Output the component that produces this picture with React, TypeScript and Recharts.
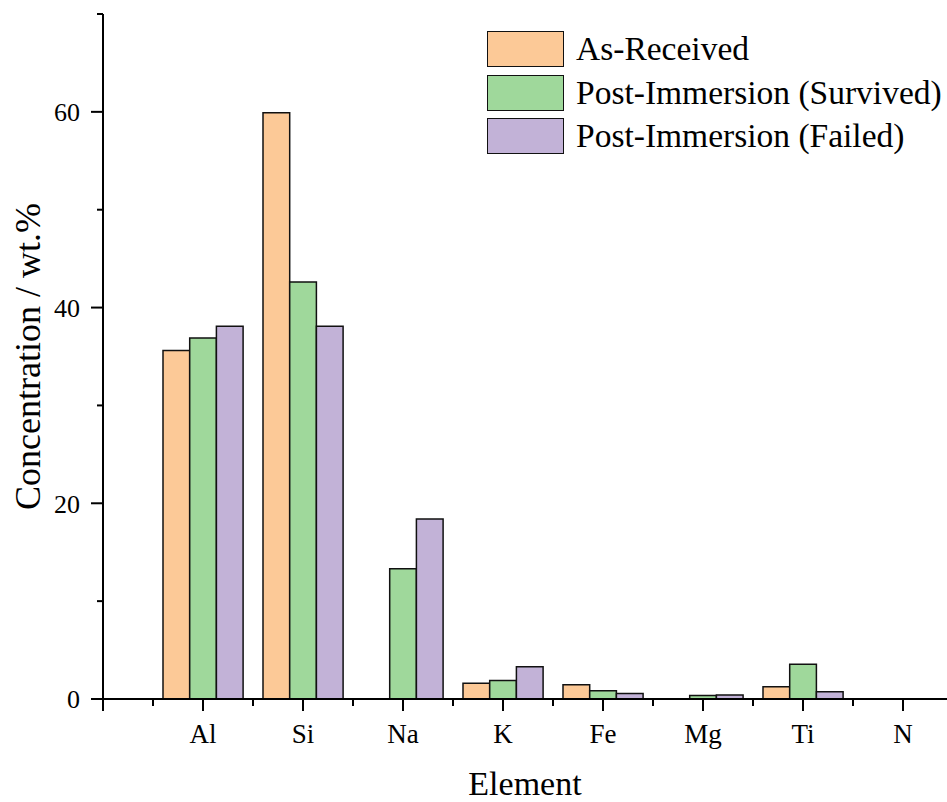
import React from "react";
import { BarChart, Bar, XAxis, YAxis, Legend } from "recharts";

const FONT = "'Liberation Serif', 'DejaVu Serif', serif";

const elements = ["Al", "Si", "Na", "K", "Fe", "Mg", "Ti", "N"];
const asReceived = [35.6, 59.9, 0, 1.6, 1.45, 0, 1.25, 0];
const survived = [36.9, 42.6, 13.3, 1.9, 0.85, 0.35, 3.55, 0];
const failed = [38.1, 38.1, 18.4, 3.3, 0.55, 0.42, 0.75, 0];

const xMajor = [0, 1, 2, 3, 4, 5, 6, 7, 8];
const xMinor = [0.5, 1.5, 2.5, 3.5, 4.5, 5.5, 6.5, 7.5];
const yTicks = [0, 10, 20, 30, 40, 50, 60, 70];

const data = elements.map((el, i) => ({
  pos: i + 1,
  el,
  asReceived: asReceived[i],
  survived: survived[i],
  failed: failed[i],
}));

const series = [
  { key: "asReceived", name: "As-Received", color: "#FCC997" },
  { key: "survived", name: "Post-Immersion (Survived)", color: "#9FD89B" },
  { key: "failed", name: "Post-Immersion (Failed)", color: "#C2B2D7" },
];
const seriesOrder = series.map((s) => s.name);

const tickLine = { stroke: "#000", strokeWidth: 2 };

function LegendBox(props: any) {
  const items = [...(props.payload ?? [])].sort(
    (a: any, b: any) => seriesOrder.indexOf(a.value) - seriesOrder.indexOf(b.value)
  );
  return (
    <div style={{ fontFamily: FONT, color: "#000" }}>
      {items.map((it: any) => (
        <div key={it.value} style={{ display: "flex", alignItems: "center", height: 36, marginBottom: 7.5 }}>
          <div
            style={{
              width: 77,
              height: 36,
              boxSizing: "border-box",
              border: "1.5px solid #111",
              background: it.color,
            }}
          />
          <span style={{ marginLeft: 12, fontSize: 33.5, lineHeight: "36px", whiteSpace: "nowrap" }}>{it.value}</span>
        </div>
      ))}
    </div>
  );
}

// y ticks: long with label every 20, short (minor) in between
function YTick(props: any) {
  const { x, y, payload } = props;
  const major = payload.value % 20 === 0;
  return (
    <g>
      <line x1={x - (major ? 12 : 6)} x2={x} y1={y} y2={y} stroke="#000" strokeWidth={2} />
      {major && (
        <text x={x - 23} y={y} dy="0.355em" textAnchor="end" fontFamily={FONT} fontSize={26} fill="#000">
          {payload.value}
        </text>
      )}
    </g>
  );
}

function YTitle(props: any) {
  const vb = props.viewBox || {};
  const x = 28;
  const y = vb.y + vb.height / 2;
  return (
    <text
      x={x}
      y={y}
      transform={`rotate(-90 ${x} ${y})`}
      textAnchor="middle"
      dominantBaseline="central"
      fontFamily={FONT}
      fontSize={36}
      fill="#000"
    >
      Concentration / wt.%
    </text>
  );
}

function XTitle(props: any) {
  const vb = props.viewBox || {};
  return (
    <text
      x={vb.x + vb.width / 2}
      y={795}
      textAnchor="middle"
      fontFamily={FONT}
      fontSize={34}
      fill="#000"
    >
      Element
    </text>
  );
}

export default function App() {
  return (
    <div style={{ position: "absolute", left: 0, top: 0, width: 947, height: 802, background: "#fff" }}>
      <BarChart
        width={947}
        height={802}
        data={data}
        margin={{ top: 14, right: 0, left: 0, bottom: 0 }}
        barGap={0}
        barSize={26.7}
      >
        {/* minor ticks: id 0 so they sit next to the plot */}
        <XAxis
          xAxisId={0}
          type="number"
          dataKey="pos"
          domain={[0, 8.44]}
          allowDataOverflow
          ticks={xMinor}
          interval={0}
          height={0.01}
          axisLine={false}
          tickSize={7}
          tickLine={tickLine}
          tickFormatter={() => ""}
        />
        <XAxis
          xAxisId={1}
          type="number"
          dataKey="pos"
          domain={[0, 8.44]}
          allowDataOverflow
          ticks={xMajor}
          interval={0}
          height={103}
          axisLine={{ stroke: "#000", strokeWidth: 2 }}
          tickLine={tickLine}
          tickSize={12}
          tickMargin={13}
          tick={{ fontFamily: FONT, fontSize: 27, fill: "#000" }}
          tickFormatter={(v: number) => (v >= 1 && v <= elements.length ? elements[v - 1] : "")}
          label={<XTitle />}
        />
        <YAxis
          domain={[0, 70]}
          ticks={yTicks}
          interval={0}
          width={103}
          axisLine={{ stroke: "#000", strokeWidth: 2 }}
          tickLine={false}
          tickSize={0}
          tickMargin={0}
          tick={<YTick />}
          label={<YTitle />}
        />
        <Legend
          layout="vertical"
          align="center"
          verticalAlign="middle"
          content={<LegendBox />}
          wrapperStyle={{ left: 487, top: 31, width: "auto", height: "auto" }}
        />
        {series.map((s) => (
          <Bar
            key={s.key}
            xAxisId={1}
            dataKey={s.key}
            name={s.name}
            fill={s.color}
            stroke="#111"
            strokeWidth={1.5}
            isAnimationActive={false}
          />
        ))}
      </BarChart>
    </div>
  );
}
